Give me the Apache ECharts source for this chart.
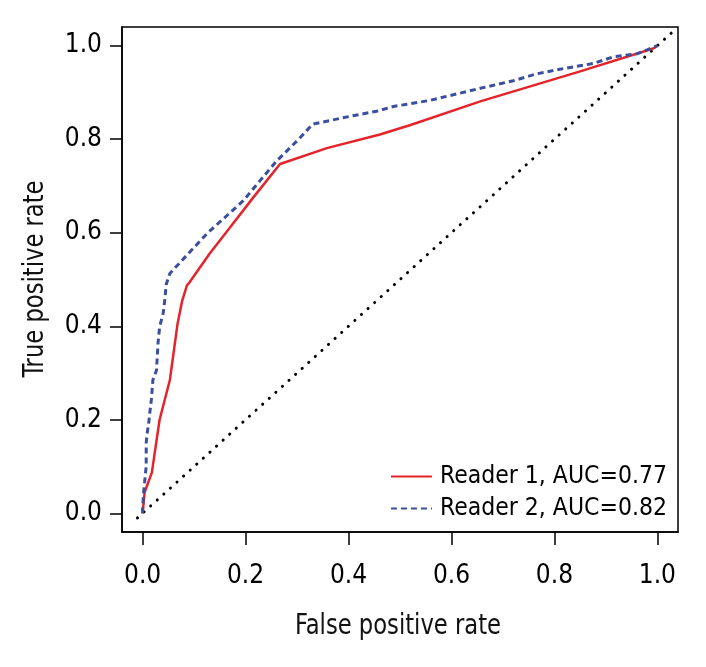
<!DOCTYPE html>
<html>
<head>
<meta charset="utf-8">
<script src="https://cdn.jsdelivr.net/npm/echarts@6/dist/echarts.min.js"></script>
<style>
html,body{margin:0;padding:0;background:#fff;}
#chart{width:706px;height:667px;}
</style>
</head>
<body>
<div id="chart"></div>
<script>
// Reader 1 ROC curve (false positive rate, true positive rate)
var reader1FPR = [0, 0.004, 0.018, 0.033, 0.053, 0.068, 0.077, 0.086, 0.092, 0.13, 0.169, 0.214, 0.267, 0.358, 0.461, 0.519, 0.656, 0.85, 0.992, 1];
var reader1TPR = [0, 0.045, 0.087, 0.2, 0.285, 0.406, 0.455, 0.487, 0.495, 0.555, 0.61, 0.674, 0.747, 0.781, 0.81, 0.83, 0.881, 0.945, 0.994, 1];
// Reader 2 ROC curve
var reader2FPR = [0, 0, 0.002, 0.007, 0.007, 0.009, 0.012, 0.014, 0.017, 0.02, 0.027, 0.03, 0.033, 0.04, 0.043, 0.046, 0.053, 0.125, 0.195, 0.26, 0.305, 0.33, 0.377, 0.403, 0.455, 0.487, 0.558, 0.656, 0.72, 0.766, 0.817, 0.876, 0.914, 0.961, 0.98, 1];
var reader2TPR = [0, 0.009, 0.045, 0.1, 0.151, 0.172, 0.194, 0.215, 0.243, 0.285, 0.306, 0.364, 0.398, 0.428, 0.455, 0.49, 0.513, 0.598, 0.668, 0.753, 0.802, 0.832, 0.843, 0.849, 0.86, 0.87, 0.883, 0.909, 0.925, 0.94, 0.951, 0.962, 0.976, 0.983, 0.991, 1];
// chance diagonal (y = x)
var diagX = [-0.01, 1.035];
var diagY = [-0.01, 1.035];
// tick values
var tickValues = [0, 0.2, 0.4, 0.6, 0.8, 1.0];
var seriesNames = ['Reader 1, AUC=0.77', 'Reader 2, AUC=0.82'];
var xTitle = 'False positive rate';
var yTitle = 'True positive rate';

function zip(a, b) { return a.map(function (v, i) { return [v, b[i]]; }); }

var FONT = '"Liberation Sans Narrow", "DejaVu Sans Condensed", "Liberation Sans", sans-serif';

var chart = echarts.init(document.getElementById('chart'), null, {renderer: 'canvas'});
chart.setOption({
  animation: false,
  backgroundColor: '#fff',
  grid: {
    left: 122, right: 28, top: 27, bottom: 135,
    show: true, borderColor: '#000', borderWidth: 1.5, backgroundColor: 'transparent'
  },
  xAxis: {
    type: 'value', min: -0.04, max: 1.04,
    splitLine: {show: false},
    axisLine: {show: true, onZero: false, lineStyle: {color: '#000', width: 1.5}},
    axisTick: {show: true, inside: false, length: 13, customValues: tickValues, lineStyle: {color: '#000', width: 1.5}},
    axisLabel: {customValues: tickValues, margin: 31, color: '#000', fontSize: 26, fontFamily: FONT,
      formatter: function (v) { return v.toFixed(1); }}
  },
  yAxis: {
    type: 'value', min: -0.04, max: 1.04,
    splitLine: {show: false},
    axisLine: {show: true, onZero: false, lineStyle: {color: '#000', width: 1.5}},
    axisTick: {show: true, inside: false, length: 12, customValues: tickValues, lineStyle: {color: '#000', width: 1.5}},
    axisLabel: {customValues: tickValues, margin: 20, color: '#000', fontSize: 26, fontFamily: FONT,
      formatter: function (v) { return v.toFixed(1); }}
  },
  legend: {
    orient: 'vertical', right: 34, bottom: 141,
    itemWidth: 41, itemHeight: 14, itemGap: 7,
    itemStyle: {color: 'transparent', borderColor: 'transparent', borderWidth: 0, opacity: 0},
    textStyle: {fontSize: 24.5, fontFamily: FONT, color: '#000', padding: [0, 0, 0, 3]},
    data: seriesNames
  },
  graphic: [
    {type: 'text', x: 398, y: 627, scaleX: 0.9, style: {text: xTitle, font: '28px ' + FONT, fill: '#111', align: 'center', verticalAlign: 'middle'}},
    {type: 'text', x: 36, y: 279, rotation: Math.PI / 2, scaleX: 0.9, style: {text: yTitle, font: '28px ' + FONT, fill: '#111', align: 'center', verticalAlign: 'middle'}}
  ],
  series: [
    {
      name: 'diag', type: 'line', data: zip(diagX, diagY), symbol: 'none', silent: true,
      lineStyle: {color: '#000', width: 3, type: [0.1, 8.8], cap: 'round'}
    },
    {
      name: seriesNames[0], type: 'line', data: zip(reader1FPR, reader1TPR), symbol: 'none',
      itemStyle: {color: '#e4232b'},
      lineStyle: {color: '#e4232b', width: 2.5}
    },
    {
      name: seriesNames[1], type: 'line', data: zip(reader2FPR, reader2TPR), symbol: 'none',
      itemStyle: {color: '#3b4f9f'},
      lineStyle: {color: '#3b4f9f', width: 3, type: [6, 4]}
    }
  ]
});
</script>
</body>
</html>
